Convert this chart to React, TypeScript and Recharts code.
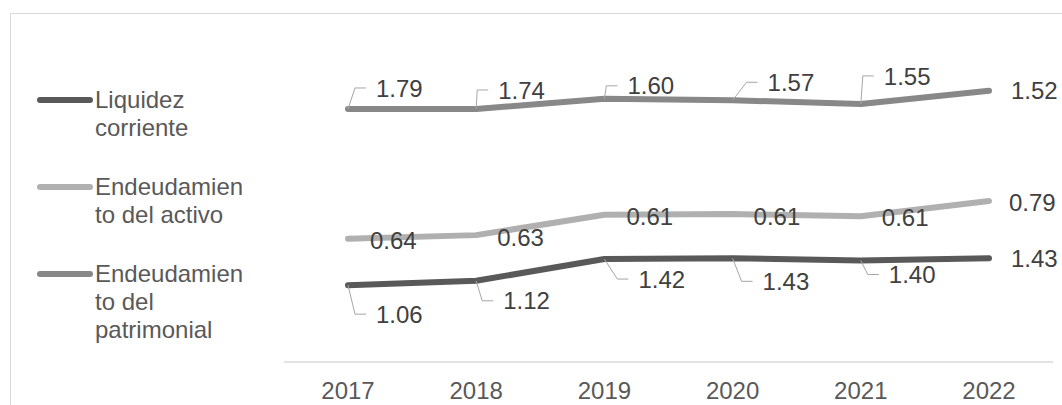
import { ComposedChart, Area, XAxis, YAxis, Legend, LabelList } from "recharts";

const years = ["2017", "2018", "2019", "2020", "2021", "2022"];
const liquidez = [1.06, 1.12, 1.42, 1.43, 1.4, 1.43];
const activo = [0.64, 0.63, 0.61, 0.61, 0.61, 0.79];
const patrimonial = [1.79, 1.74, 1.6, 1.57, 1.55, 1.52];

const data = years.map((year, i) => ({
	year,
	liquidez: liquidez[i],
	activo: activo[i],
	patrimonial: patrimonial[i],
}));

const seriesOrder = ["liquidez", "activo", "patrimonial"];

const colors: Record<string, string> = {
	liquidez: "#595959",
	activo: "#b0b0b0",
	patrimonial: "#888888",
};

// where each data label sits relative to its point (text left edge, middle)
const labelOffsets: Record<string, number[][]> = {
	liquidez: [[28, 29], [27, 20], [34, 20], [30, 23], [28, 14], [22, 0]],
	activo: [[22, 2], [21, 2], [22, 2], [21, 2], [21, 1], [20, 1]],
	patrimonial: [[28, -21], [22, -19], [23, -13], [35, -18], [23, -28], [22, 0]],
};

const FONT = '"Liberation Sans", Arial, sans-serif';

function calloutLabel(key: string) {
	return (props: any) => {
		const x = props.x ?? props.viewBox?.x;
		const y = props.y ?? props.viewBox?.y;
		const index = props.index;
		if (x == null || y == null || index == null) return null;
		const [dx, dy] = labelOffsets[key][index];
		const lx = x + dx;
		const ly = y + dy;
		return (
			<g key={`${key}-${index}`}>
				{Math.abs(dy) > 6 && (
					<polyline
						points={`${x},${y} ${lx - 21},${ly} ${lx - 10},${ly}`}
						fill="none"
						stroke="#a6a6a6"
						strokeWidth={1}
					/>
				)}
				<text
					x={lx}
					y={ly}
					dy="0.36em"
					fontSize={24}
					fill="#404040"
					fontFamily={FONT}
				>
					{Number(props.value).toFixed(2)}
				</text>
			</g>
		);
	};
}

function renderLegend(props: any) {
	const items = [...(props.payload || [])].sort(
		(a: any, b: any) => seriesOrder.indexOf(a.dataKey) - seriesOrder.indexOf(b.dataKey)
	);
	return (
		<div style={{ fontFamily: FONT }}>
			{items.map((entry: any, i: number) => (
				<div
					key={i}
					style={{ display: "flex", alignItems: "flex-start", marginBottom: 31 }}
				>
					<svg width={61} height={28} style={{ flex: "none" }}>
						<line
							x1={6}
							y1={14}
							x2={56}
							y2={14}
							stroke={colors[entry.dataKey]}
							strokeWidth={6}
							strokeLinecap="round"
						/>
					</svg>
					<div
						style={{
							width: 151,
							overflowWrap: "anywhere",
							lineHeight: "28px",
							fontSize: 24,
							color: "#595959",
						}}
					>
						{entry.value}
					</div>
				</div>
			))}
		</div>
	);
}

export default function App() {
	return (
		<div
			style={{
				position: "absolute",
				left: 0,
				top: 0,
				width: 1062,
				height: 405,
				overflow: "hidden",
				background: "#fff",
			}}
		>
			<div
				style={{
					position: "absolute",
					left: 10,
					top: 13,
					width: 1200,
					height: 500,
					border: "1px solid #d9d9d9",
				}}
			/>
			<div style={{ position: "absolute", left: 0, top: 0 }}>
				<ComposedChart
					width={1062}
					height={405}
					data={data}
					margin={{ top: 72, right: 9, bottom: 0, left: 284 }}
				>
					<XAxis
						dataKey="year"
						height={43}
						padding={{ left: 64, right: 64 }}
						axisLine={{ stroke: "#d9d9d9", strokeWidth: 1.5 }}
						tickLine={false}
						tickMargin={14}
						tick={{ fill: "#595959", fontSize: 24, fontFamily: FONT }}
						interval={0}
					/>
					<YAxis hide domain={[0, 4]} />
					<Legend
						layout="vertical"
						align="center"
						verticalAlign="middle"
						content={renderLegend}
						wrapperStyle={{ left: 34, top: 86, width: 230, height: "auto" }}
					/>
					<Area
						dataKey="liquidez"
						name="Liquidez corriente"
						stackId="s"
						stroke={colors.liquidez}
						strokeWidth={6}
						strokeLinecap="round"
						strokeLinejoin="round"
						fill="none"
						dot={false}
						activeDot={false}
						isAnimationActive={false}
					>
						<LabelList dataKey="liquidez" content={calloutLabel("liquidez")} />
					</Area>
					<Area
						dataKey="activo"
						name="Endeudamiento del activo"
						stackId="s"
						stroke={colors.activo}
						strokeWidth={6}
						strokeLinecap="round"
						strokeLinejoin="round"
						fill="none"
						dot={false}
						activeDot={false}
						isAnimationActive={false}
					>
						<LabelList dataKey="activo" content={calloutLabel("activo")} />
					</Area>
					<Area
						dataKey="patrimonial"
						name="Endeudamiento del patrimonial"
						stackId="s"
						stroke={colors.patrimonial}
						strokeWidth={6}
						strokeLinecap="round"
						strokeLinejoin="round"
						fill="none"
						dot={false}
						activeDot={false}
						isAnimationActive={false}
					>
						<LabelList dataKey="patrimonial" content={calloutLabel("patrimonial")} />
					</Area>
				</ComposedChart>
			</div>
		</div>
	);
}
